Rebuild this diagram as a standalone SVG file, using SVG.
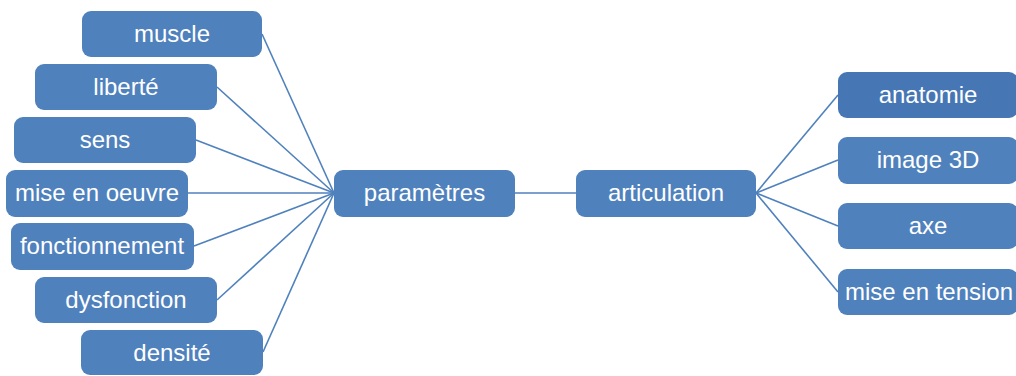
<svg xmlns="http://www.w3.org/2000/svg" width="1016" height="376" viewBox="0 0 1016 376">
  <style>
    .box { fill: #4f81bd; }
    .box.dark { fill: #4677b4; }
    .lbl { font-family: "Liberation Sans", Arial, sans-serif; font-size: 24px; fill: #ffffff; text-anchor: middle; }
    .link { stroke: #4f81bd; stroke-width: 1.6; fill: none; }
  </style>
  <rect width="1016" height="376" fill="#ffffff"/>

  <!-- connectors -->
  <g id="connectors">
    <line class="link" x1="262" y1="34" x2="334" y2="193"/>
    <line class="link" x1="217" y1="87" x2="334" y2="193"/>
    <line class="link" x1="196" y1="140" x2="334" y2="193"/>
    <line class="link" x1="188" y1="193" x2="334" y2="193"/>
    <line class="link" x1="194" y1="246" x2="334" y2="193"/>
    <line class="link" x1="217" y1="300" x2="334" y2="193"/>
    <line class="link" x1="263" y1="352" x2="334" y2="193"/>
    <line class="link" x1="515" y1="193" x2="576" y2="193"/>
    <line class="link" x1="756" y1="193" x2="838" y2="95"/>
    <line class="link" x1="756" y1="193" x2="838" y2="160"/>
    <line class="link" x1="756" y1="193" x2="838" y2="226"/>
    <line class="link" x1="756" y1="193" x2="838" y2="292"/>
  </g>

  <!-- left branch -->
  <g id="muscle"><rect class="box" x="82" y="11" width="180" height="46" rx="9"/><text class="lbl" x="172" y="42">muscle</text></g>
  <g id="liberte"><rect class="box" x="35" y="64" width="182" height="46" rx="9"/><text class="lbl" x="126" y="95">liberté</text></g>
  <g id="sens"><rect class="box" x="14" y="117" width="182" height="46" rx="9"/><text class="lbl" x="105" y="148">sens</text></g>
  <g id="mise-en-oeuvre"><rect class="box" x="6" y="170" width="182" height="47" rx="9"/><text class="lbl" x="97" y="201">mise en oeuvre</text></g>
  <g id="fonctionnement"><rect class="box" x="11" y="223" width="183" height="47" rx="9"/><text class="lbl" x="102" y="254">fonctionnement</text></g>
  <g id="dysfonction"><rect class="box" x="35" y="277" width="182" height="46" rx="9"/><text class="lbl" x="126" y="308">dysfonction</text></g>
  <g id="densite"><rect class="box" x="81" y="330" width="182" height="45" rx="9"/><text class="lbl" x="172" y="361">densité</text></g>

  <!-- centre -->
  <g id="parametres"><rect class="box" x="334" y="170" width="181" height="47" rx="9"/><text class="lbl" x="424.5" y="201">paramètres</text></g>
  <g id="articulation"><rect class="box" x="576" y="170" width="180" height="47" rx="9"/><text class="lbl" x="666" y="201">articulation</text></g>

  <!-- right branch -->
  <g id="anatomie"><rect class="box dark" x="838" y="72" width="180" height="46" rx="9"/><text class="lbl" x="928" y="103">anatomie</text></g>
  <g id="image-3d"><rect class="box" x="838" y="137" width="180" height="47" rx="9"/><text class="lbl" x="928" y="168">image 3D</text></g>
  <g id="axe"><rect class="box" x="838" y="203" width="180" height="46" rx="9"/><text class="lbl" x="928" y="234">axe</text></g>
  <g id="mise-en-tension"><rect class="box" x="838" y="269" width="180" height="46" rx="9"/><text class="lbl" x="929" y="300">mise en tension</text></g>
</svg>
